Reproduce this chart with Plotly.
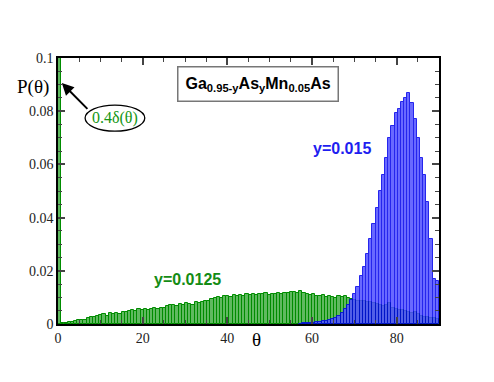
import numpy as np
import plotly.graph_objects as go

# histogram of angle distribution, bins of 0.75 degree
bin_width = 0.75

p_green = [0.4, 0.0003, 0.0005, 0.0007, 0.0008, 0.0010, 0.0014,
           0.0015, 0.0014, 0.0021, 0.0027, 0.0025, 0.0029, 0.0033,
           0.0036, 0.0031, 0.0040, 0.0038, 0.0043, 0.0039, 0.0046,
           0.0044, 0.0049, 0.0052, 0.0050, 0.0055, 0.0053,
           0.0056, 0.0052, 0.0058, 0.0060, 0.0055, 0.0062, 0.0059,
           0.0066, 0.0070, 0.0072, 0.0068, 0.0074, 0.0071, 0.0078,
           0.0076, 0.0070, 0.0081, 0.0079, 0.0083, 0.0086,
           0.0088, 0.0093, 0.0097, 0.0101, 0.0099, 0.0104, 0.0106,
           0.0103, 0.0108, 0.0105, 0.0110, 0.0107, 0.0111, 0.0109,
           0.0112, 0.0108, 0.0113, 0.0111, 0.0115, 0.0109, 0.0114,
           0.0112, 0.0116, 0.0113, 0.0118, 0.0115, 0.0120, 0.0122,
           0.0118, 0.0124, 0.0116, 0.0113, 0.0110, 0.0112, 0.0106,
           0.0104, 0.0108, 0.0101, 0.0106, 0.0103, 0.0099, 0.0104,
           0.0102, 0.0106, 0.0098, 0.0094, 0.0090, 0.0088,
           0.0085, 0.0087, 0.0082, 0.0084, 0.0079, 0.0075, 0.0071,
           0.0067, 0.0072, 0.0078, 0.0060, 0.0055, 0.0051, 0.0053,
           0.0048, 0.0046, 0.0041, 0.0044, 0.0036, 0.0031, 0.0028,
           0.0026, 0.0022, 0.0023, 0.0020]

blue_first_bin = 76
p_blue = [0.0001, 0.0002, 0.0003, 0.0004, 0.0005, 0.0007, 0.0009, 0.0011,
          0.0013, 0.0016, 0.0020, 0.0024, 0.0030, 0.0040, 0.0055, 0.0072,
          0.0092, 0.0112, 0.0140, 0.0180, 0.0215, 0.0265, 0.0320, 0.0375,
          0.0435, 0.0500, 0.0560, 0.0625, 0.0700, 0.0745, 0.0795, 0.0810,
          0.0835, 0.0850, 0.0868, 0.0830, 0.0770, 0.0700, 0.0625, 0.0560,
          0.0460, 0.0320, 0.0170, 0.0160]

theta_green = (np.arange(len(p_green)) + 0.5) * bin_width
theta_blue = (np.arange(len(p_blue)) + blue_first_bin + 0.5) * bin_width

fig = go.Figure()
fig.add_trace(go.Bar(x=theta_green, y=p_green, width=bin_width,
                     marker=dict(color="rgb(95,185,95)", line=dict(color="rgb(0,140,0)", width=1))))
fig.add_trace(go.Bar(x=theta_blue, y=p_blue, width=bin_width, opacity=0.85,
                     marker=dict(color="rgb(80,80,255)", line=dict(color="rgb(0,0,235)", width=1))))

serif = "Liberation Serif"
sans = "Liberation Sans"

# page body has an 8px margin, so the figure is 8px smaller than the window
fig.update_layout(
	width=486, height=374,
	margin=dict(l=50, r=55, t=50, b=58),
	paper_bgcolor="white", plot_bgcolor="white",
	barmode="overlay", bargap=0, showlegend=False,
	font=dict(family=serif, size=14, color="#222"),
)
fig.update_xaxes(range=[0, 90], tickvals=[0, 20, 40, 60, 80], ticks="inside", ticklen=7,
                 tickwidth=1.5, showline=True, linecolor="black", linewidth=1.5, mirror="ticks",
                 showgrid=False, zeroline=False,
                 minor=dict(dtick=5, ticks="inside", ticklen=4, tickwidth=1, showgrid=False))
fig.update_yaxes(range=[0, 0.1], tickvals=[0, 0.02, 0.04, 0.06, 0.08, 0.1],
                 ticktext=["0", "0.02", "0.04", "0.06", "0.08", "0.1"],
                 ticks="inside", ticklen=7, tickwidth=1.5,
                 showline=True, linecolor="black", linewidth=1.5, mirror="ticks",
                 showgrid=False, zeroline=False,
                 minor=dict(dtick=0.005, ticks="inside", ticklen=4, tickwidth=1, showgrid=False))

# axis titles
fig.add_annotation(text="P(θ)", xref="paper", yref="paper", x=-0.066, y=0.89,
                   xanchor="center", yanchor="middle", showarrow=False,
                   font=dict(family=serif, size=19, color="black"))
fig.add_annotation(text="θ", xref="x", yref="paper", x=46.9, y=-0.06,
                   xanchor="center", yanchor="middle", showarrow=False,
                   font=dict(family=serif, size=19, color="black"))

# compound label
fig.add_annotation(text="<b>Ga<sub>0.95-y</sub>As<sub>y</sub>Mn<sub>0.05</sub>As</b>",
                   x=47.2, y=0.0902, showarrow=False,
                   font=dict(family=sans, size=16, color="black"),
                   bordercolor="#777", borderwidth=1.5, borderpad=7, bgcolor="white")

fig.add_annotation(text="<b>y=0.015</b>", x=67.0, y=0.0660, showarrow=False,
                   font=dict(family=sans, size=16, color="rgb(30,30,240)"))
fig.add_annotation(text="<b>y=0.0125</b>", x=30.6, y=0.0169, showarrow=False,
                   font=dict(family=sans, size=16, color="rgb(20,140,20)"))

# delta peak label with ellipse and arrow
fig.add_shape(type="circle", xref="x", yref="y", x0=6.4, x1=20.5, y0=0.0725, y1=0.0823,
              line=dict(color="black", width=1.3), fillcolor="white")
fig.add_annotation(text="0.4δ(θ)", x=13.4, y=0.0774, showarrow=False,
                   font=dict(family=serif, size=16, color="rgb(20,150,20)"))
fig.add_annotation(text="", x=0.9, y=0.0906, ax=7.3, ay=0.0803, axref="x", ayref="y",
                   showarrow=True, arrowhead=2, arrowsize=1.2, arrowwidth=2, arrowcolor="black")

fig.write_html("out.html")
